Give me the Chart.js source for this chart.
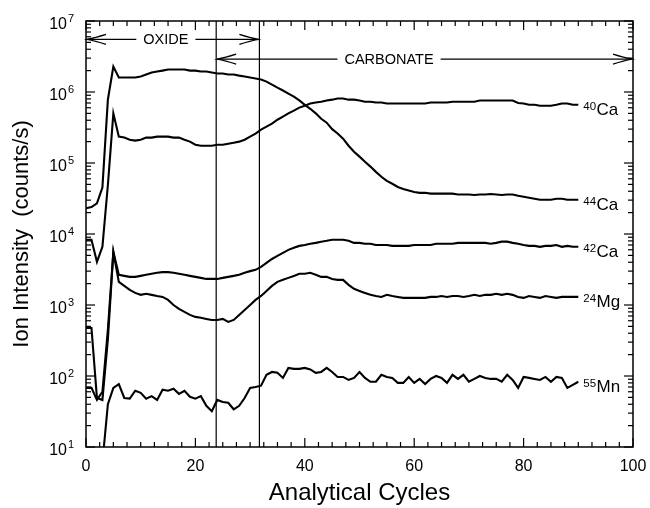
<!DOCTYPE html>
<html><head><meta charset="utf-8">
<script src="https://cdn.jsdelivr.net/npm/chart.js@4/dist/chart.umd.min.js"></script>
<style>html,body{margin:0;padding:0;background:#fff}#wrap{width:650px;height:508px}</style>
</head><body><div id="wrap"><canvas id="c" width="650" height="508"></canvas></div>
<script>
const cycles = [0,1,2,3,4,5,6,7,8,9,10,11,12,13,14,15,16,17,18,19,20,21,22,23,24,25,26,27,28,29,30,31,32,33,34,35,36,37,38,39,40,41,42,43,44,45,46,47,48,49,50,51,52,53,54,55,56,57,58,59,60,61,62,63,64,65,66,67,68,69,70,71,72,73,74,75,76,77,78,79,80,81,82,83,84,85,86,87,88,89,90];

const ca40 = [8300,8300,4050,6600,49000,500000,235000,228000,213000,207000,
  213000,228000,228000,235000,235000,235000,228000,228000,213000,200000,
  181000,175000,175000,175000,181000,181000,187000,193000,200000,213000,
  235000,259000,295000,325000,358000,407000,450000,500000,546000,603000,
  640000,690000,710000,730000,760000,780000,810000,810000,780000,780000,
  760000,730000,730000,710000,710000,690000,690000,690000,690000,690000,
  690000,690000,690000,710000,710000,710000,710000,730000,730000,730000,
  730000,730000,760000,760000,760000,760000,760000,760000,760000,700000,
  690000,660000,660000,640000,640000,640000,660000,690000,690000,660000,
  660000];

const ca44 = [23000,24000,27000,45000,780000,2280000,1600000,1600000,1600000,1600000,
  1650000,1760000,1880000,1940000,2000000,2070000,2070000,2070000,2070000,2000000,
  2000000,1940000,1940000,1880000,1820000,1820000,1760000,1760000,1700000,1650000,
  1600000,1550000,1500000,1400000,1270000,1150000,1050000,950000,860000,760000,
  660000,580000,500000,420000,370000,300000,260000,220000,175000,144000,
  123000,104000,89000,75000,64000,56000,51000,46000,43000,41000,
  39000,38000,38000,37000,37000,37000,37000,37000,36000,36000,
  36000,35500,36000,36000,36500,36000,35500,36000,36000,34600,
  33500,32400,31300,30300,30300,30300,31300,31300,30300,30300,
  30300];

const ca42 = [68,68,46,60,450,5600,2660,2570,2490,2490,
  2570,2660,2750,2840,2900,2900,2840,2750,2660,2570,
  2490,2410,2330,2330,2330,2410,2490,2570,2660,2840,
  3000,3130,3450,3910,4450,4920,5430,5980,6380,6800,
  7000,7280,7500,7800,8020,8300,8300,8300,8020,7500,
  7500,7280,7280,7000,7000,7000,6800,6800,6800,6800,
  7000,7000,7000,7000,7280,7280,7280,7280,7500,7500,
  7500,7500,7500,7500,7280,7500,7800,7800,7500,7280,
  7000,6800,6800,6600,6800,6800,7000,6600,6800,6600,
  6600];

const mg24 = [475,475,49,46,330,5600,2120,1860,1630,1480,
  1390,1440,1390,1340,1300,1180,1000,880,800,725,
  680,660,637,616,616,637,578,616,725,853,
  1000,1180,1340,1580,1860,2120,2260,2410,2570,2750,
  2750,2840,2660,2490,2490,2330,2260,2260,1920,1690,
  1580,1480,1390,1340,1300,1390,1340,1300,1260,1260,
  1260,1260,1260,1300,1300,1340,1300,1340,1340,1300,
  1340,1390,1340,1390,1390,1440,1390,1440,1390,1300,
  1260,1340,1300,1260,1340,1300,1260,1300,1300,1300,
  1300];

const mn55 = [null,null,null,6,40,68,77,49,48,62,
  58,48,52,46,64,62,66,56,62,51,
  48,52,38,32,46,43,42,34,38,49,
  68,70,73,104,114,111,94,130,126,126,
  130,124,111,114,130,114,97,97,88,94,
  114,94,83,83,104,97,94,80,80,97,
  80,91,77,91,100,94,80,104,91,104,
  83,91,100,94,91,91,83,104,88,68,
  97,94,91,88,97,83,97,94,68,75,
  83];

const seriesMass = ['40','44','42','24','55'];
const seriesElement = ['Ca','Ca','Ca','Mg','Mn'];
const yTickValues = [1e1,1e2,1e3,1e4,1e5,1e6,1e7];
const yTickExponents = ['1','2','3','4','5','6','7'];
const xTickValues = [0,20,40,60,80,100];
const xTickLabels = ['0','20','40','60','80','100'];
const phaseBoundaries = [23.8, 31.7];
const phaseNames = ['OXIDE','CARBONATE'];
const phaseStart = [0, 23.8];
const phaseEnd = [31.7, 100];
const phaseLabelX = [14.6, 55.4];
const phaseArrowLevel = [5.5e6, 2.9e6];

const FONT = "'Liberation Sans', Arial, Helvetica, sans-serif";
const allSeries = [ca40, ca44, ca42, mg24, mn55];

const datasets = allSeries.map((s, i) => ({
  label: seriesMass[i] + seriesElement[i],
  data: cycles.map((c, k) => ({x: c, y: s[k]})),
  borderColor: '#000',
  borderWidth: 2.1,
  pointRadius: 0,
  tension: 0,
  fill: false,
  spanGaps: false
}));

function seg(ctx, x1, y1, x2, y2) { ctx.beginPath(); ctx.moveTo(x1, y1); ctx.lineTo(x2, y2); ctx.stroke(); }
function arrowHead(ctx, tipX, y, dir) {
  const L = 19, W = 5;
  ctx.beginPath();
  ctx.moveTo(tipX - dir * L, y - W);
  ctx.quadraticCurveTo(tipX - dir * 8, y - 1.5, tipX, y);
  ctx.quadraticCurveTo(tipX - dir * 8, y + 1.5, tipX - dir * L, y + W);
  ctx.stroke();
}

const overlay = {
  id: 'overlay',
  afterDatasetsDraw(chart) {
    const {ctx, chartArea: a, scales: {x, y}} = chart;
    ctx.save();
    ctx.strokeStyle = '#000'; ctx.fillStyle = '#000';

    ctx.lineWidth = 1.2;
    phaseBoundaries.forEach(v => { const px = x.getPixelForValue(v); seg(ctx, px, a.top, px, a.bottom); });

    ctx.lineWidth = 1.5;
    ctx.strokeRect(a.left, a.top, a.right - a.left, a.bottom - a.top);

    ctx.lineWidth = 1.2;
    for (let i = 0; i <= 40; i++) {
      const v = i * 2.5; const px = x.getPixelForValue(v);
      const len = (i % 8 === 0) ? 9 : 5;
      seg(ctx, px, a.bottom, px, a.bottom - len);
      seg(ctx, px, a.top, px, a.top + len);
    }
    for (let d = 1; d <= 7; d++) {
      const base = Math.pow(10, d);
      const py = y.getPixelForValue(base);
      seg(ctx, a.left, py, a.left + 9, py);
      seg(ctx, a.right, py, a.right - 9, py);
      if (d < 7) {
        for (let m = 2; m <= 9; m++) {
          const pm = y.getPixelForValue(m * base);
          seg(ctx, a.left, pm, a.left + 5, pm);
          seg(ctx, a.right, pm, a.right - 5, pm);
        }
      }
    }

    yTickValues.forEach((v, i) => {
      const py = y.getPixelForValue(v);
      ctx.font = '16px ' + FONT; ctx.textAlign = 'right'; ctx.textBaseline = 'alphabetic';
      ctx.fillText('10', a.left - 19, py + 7.5);
      ctx.font = '11px ' + FONT; ctx.textAlign = 'left';
      ctx.fillText(yTickExponents[i], a.left - 18, py + 0.5);
    });

    ctx.font = '16px ' + FONT; ctx.textAlign = 'center'; ctx.textBaseline = 'alphabetic';
    xTickValues.forEach((v, i) => {
      ctx.fillText(xTickLabels[i], x.getPixelForValue(v), a.bottom + 24);
    });

    ctx.lineWidth = 1.2;
    ctx.font = '14.5px ' + FONT; ctx.textBaseline = 'middle'; ctx.textAlign = 'center';
    phaseNames.forEach((name, i) => {
      const py = y.getPixelForValue(phaseArrowLevel[i]);
      const x1 = x.getPixelForValue(phaseStart[i]) + 1;
      const x2 = x.getPixelForValue(phaseEnd[i]) - 1;
      const cx = x.getPixelForValue(phaseLabelX[i]);
      const w = ctx.measureText(name).width;
      seg(ctx, x1, py, cx - w / 2 - 7, py);
      seg(ctx, cx + w / 2 + 7, py, x2, py);
      arrowHead(ctx, x1, py, -1);
      arrowHead(ctx, x2, py, 1);
      ctx.fillText(name, cx, py + 0.5);
    });

    ctx.textBaseline = 'alphabetic'; ctx.textAlign = 'left';
    allSeries.forEach((s, i) => {
      const k = s.length - 1;
      const px = x.getPixelForValue(cycles[k]) + 5;
      const py = y.getPixelForValue(s[k]) + 10;
      ctx.font = '11.5px ' + FONT;
      ctx.fillText(seriesMass[i], px, py - 5);
      const mw = ctx.measureText(seriesMass[i]).width;
      ctx.font = '17px ' + FONT;
      ctx.fillText(seriesElement[i], px + mw + 0.5, py);
    });
    ctx.restore();
  }
};

new Chart(document.getElementById('c'), {
  type: 'line',
  data: { datasets },
  options: {
    responsive: false, animation: false, devicePixelRatio: 1,
    layout: { padding: { left: 0, right: 17, top: 21, bottom: 0 } },
    plugins: { legend: { display: false }, tooltip: { enabled: false } },
    scales: {
      x: {
        type: 'linear', min: 0, max: 100,
        afterBuildTicks: s => { s.ticks = xTickValues.map(v => ({ value: v })); },
        grid: { display: false, drawTicks: false }, border: { display: false },
        ticks: { display: false },
        title: { display: true, text: 'Analytical Cycles', color: '#000', font: { family: FONT, size: 24 }, padding: { top: 0, bottom: 0 } },
        afterFit: s => { s.height = 61; }
      },
      y: {
        type: 'logarithmic', min: 10, max: 1e7,
        afterBuildTicks: s => { s.ticks = yTickValues.map(v => ({ value: v })); },
        grid: { display: false, drawTicks: false }, border: { display: false },
        ticks: { display: false },
        title: { display: true, text: 'Ion Intensity  (counts/s)', color: '#000', font: { family: FONT, size: 22 }, padding: { top: 9, bottom: 0 } },
        afterFit: s => { s.width = 86; }
      }
    }
  },
  plugins: [overlay]
});
</script></body></html>
